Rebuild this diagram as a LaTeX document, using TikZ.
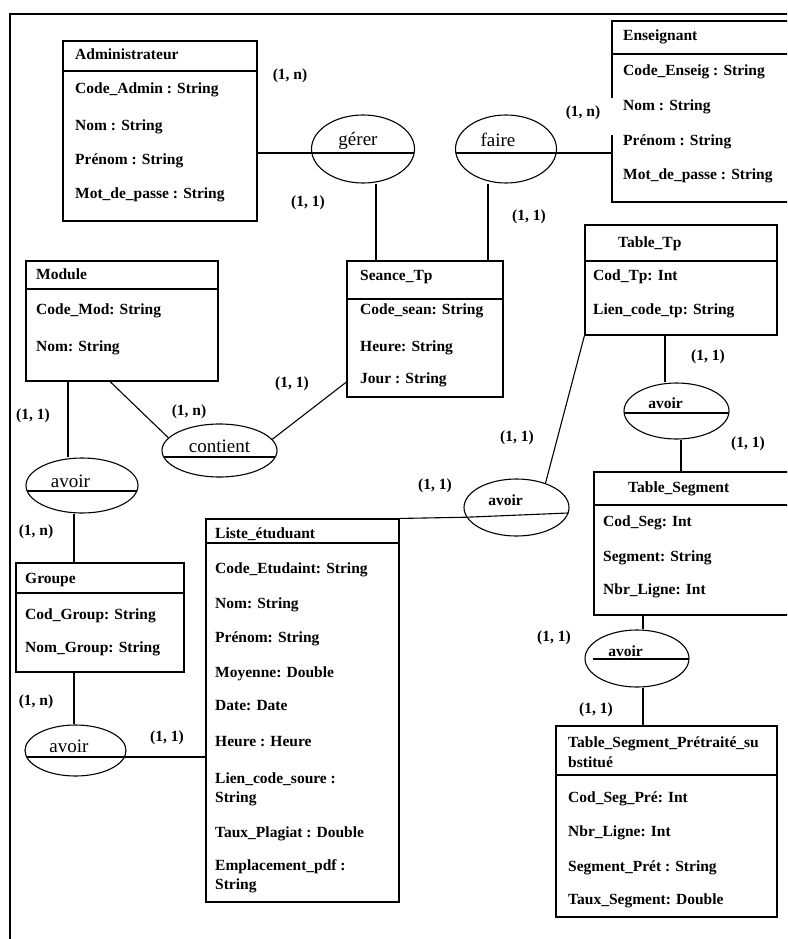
\documentclass[tikz,border=0pt]{standalone}
\usepackage{fontspec}
\setmainfont{Liberation Serif}
\usetikzlibrary{shapes.geometric,calc}
\newcommand\attrf{\fontsize{15.5}{19}\selectfont\bfseries}
\newcommand\relf{\fontsize{19}{22}\selectfont}
\newcommand\entity[6]{%
  \node[ebox, minimum width={(#4-#2)*1pt}, minimum height={(#5-#3)*1pt}] (#1) at ({(#2+#4)/2},{(#3+#5)/2}) {};
  \draw[conn] (#1.west |- 0,#6) -- (#1.east |- 0,#6);
}
\begin{document}
\begin{tikzpicture}[x=1pt,y=-1pt,
  ebox/.style={draw, line width=1.1pt, inner sep=0, rectangle},
  rel/.style={draw, ellipse, line width=1.1pt, inner sep=0},
  attr/.style={anchor=base west, font=\attrf, inner sep=0},
  card/.style={font=\attrf, inner sep=0},
  rtxt/.style={font=\relf, inner sep=0},
  stxt/.style={font=\attrf, inner sep=0},
  conn/.style={line width=1.1pt},
]
\path[use as bounding box] (0,0) rectangle (787,939);
\clip (0,0) rectangle (787,939);
\fill[white] (0,0) rectangle (787,939);
% frame
\draw[line width=1.2pt] (10,14) rectangle (830,980);

% ---------- entities ----------
\entity{admin}{63}{41}{257}{221}{71}
\node[attr] (adminT) at (75,60) {Administrateur};
\node[attr] (adminA1) at (75,94) {Code\_Admin : String};
\node[attr] (adminA2) at (75,131) {Nom : String};
\node[attr] (adminA3) at (75,164) {Prénom : String};
\node[attr] (adminA4) at (75,198) {Mot\_de\_passe : String};

\entity{ens}{612}{21}{792}{202}{54}
\draw[white, line width=3pt] (ens.west |- 0,98) -- (ens.west |- 0,135);
\node[attr] (ensT) at (623,41) {Enseignant};
\node[attr] (ensA1) at (623,76) {Code\_Enseig : String};
\node[attr] (ensA2) at (623,111) {Nom : String};
\node[attr] (ensA3) at (623,145) {Prénom : String};
\node[attr] (ensA4) at (623,179) {Mot\_de\_passe : String};

\entity{module}{26}{261}{218}{381}{289}
\node[attr] (modT) at (36,279) {Module};
\node[attr] (modA1) at (36,314) {Code\_Mod: String};
\node[attr] (modA2) at (36,351) {Nom: String};

\entity{seance}{347}{261}{503}{397}{299}
\node[attr] (seaT) at (360,280) {Seance\_Tp};
\node[attr] (seaA1) at (360,314) {Code\_sean: String};
\node[attr] (seaA2) at (360,351) {Heure: String};
\node[attr] (seaA3) at (360,383) {Jour : String};

\entity{tabletp}{585}{225}{777}{335}{261}
\node[attr] (tpT) at (618,247) {Table\_Tp};
\node[attr] (tpA1) at (593,280) {Cod\_Tp: Int};
\node[attr] (tpA2) at (593,314) {Lien\_code\_tp: String};

\entity{groupe}{16}{563}{184}{672}{593}
\node[attr] (grT) at (25,583) {Groupe};
\node[attr] (grA1) at (25,619) {Cod\_Group: String};
\node[attr] (grA2) at (25,652) {Nom\_Group: String};

\entity{liste}{206}{519}{399}{902}{543}
\node[attr] (liT) at (215,538) {Liste\_étuduant};
\node[attr] (liA1) at (215,573) {Code\_Etudaint: String};
\node[attr] (liA2) at (215,608) {Nom: String};
\node[attr] (liA3) at (215,642) {Prénom: String};
\node[attr] (liA4) at (215,677) {Moyenne: Double};
\node[attr] (liA5) at (215,710) {Date: Date};
\node[attr] (liA6) at (215,746) {Heure : Heure};
\node[attr] (liA7a) at (215,783) {Lien\_code\_soure :};
\node[attr] (liA7b) at (215,802) {String};
\node[attr] (liA8) at (215,837) {Taux\_Plagiat : Double};
\node[attr] (liA9a) at (215,870) {Emplacement\_pdf :};
\node[attr] (liA9b) at (215,889) {String};

\entity{tseg}{594}{472}{792}{615}{505}
\node[attr] (tsT) at (628,492) {Table\_Segment};
\node[attr] (tsA1) at (603,526) {Cod\_Seg: Int};
\node[attr] (tsA2) at (603,561) {Segment: String};
\node[attr] (tsA3) at (603,594) {Nbr\_Ligne: Int};

\entity{tsegp}{556}{726}{777}{917}{775}
\node[attr] (tpsTa) at (568,747) {Table\_Segment\_Prétraité\_su};
\node[attr] (tpsTb) at (568,767) {bstitué};
\node[attr] (tpsA1) at (568,802) {Cod\_Seg\_Pré: Int};
\node[attr] (tpsA2) at (568,836) {Nbr\_Ligne: Int};
\node[attr] (tpsA3) at (568,871) {Segment\_Prét : String};
\node[attr] (tpsA4) at (568,904) {Taux\_Segment: Double};

% ---------- relations ----------
\node[rel, minimum width=103pt, minimum height=68pt] (gerer) at (363,149) {};
\node[rtxt] (gererT) at (358,141) {gérer};
\draw[conn] ($(gerer.center)+(-51.1,4)$) -- ($(gerer.center)+(51.1,4)$);

\node[rel, minimum width=101pt, minimum height=68pt] (faire) at (506,149) {};
\node[rtxt] (faireT) at (498,140) {faire};
\draw[conn] ($(faire.center)+(-50.1,4)$) -- ($(faire.center)+(50.1,4)$);

\node[rel, minimum width=115pt, minimum height=53pt] (contient) at (219.5,450.5) {};
\node[rtxt] (contT) at (219.5,446) {contient};
\draw[conn] ($(contient.center)+(-55.7,6.5)$) -- ($(contient.center)+(55.7,6.5)$);

\node[rel, minimum width=112pt, minimum height=55pt] (avoirL) at (82,485.5) {};
\node[rtxt] (avLT) at (70.5,481) {avoir};
\draw[conn] ($(avoirL.center)+(-54.9,5.5)$) -- ($(avoirL.center)+(54.9,5.5)$);

\node[rel, minimum width=101pt, minimum height=51pt] (avoirBL) at (75.5,750.5) {};
\node[rtxt] (avBLT) at (69,746) {avoir};
\draw[conn] ($(avoirBL.center)+(-48.8,6.5)$) -- ($(avoirBL.center)+(48.8,6.5)$);

\node[rel, minimum width=105pt, minimum height=57pt] (avoirM) at (516.5,507.5) {};
\node[stxt] (avMT) at (505.5,500) {avoir};
\draw[conn] (avoirM.191) -- (avoirM.-6);

\node[rel, minimum width=105pt, minimum height=56pt] (avoirR) at (676.5,411) {};
\node[stxt] (avRT) at (665.5,403) {avoir};
\draw[conn] ($(avoirR.center)+(-52.4,2)$) -- ($(avoirR.center)+(52.4,2)$);

\node[rel, minimum width=104pt, minimum height=57pt] (avoirBR) at (637,658.5) {};
\node[stxt] (avBRT) at (625.5,651) {avoir};
\draw[conn] ($(avoirBR.center)+(-44,0.5)$) -- ($(avoirBR.center)+(52,0.5)$);

% ---------- connectors ----------
\draw[conn] (admin.east |- 0,153) -- ($(gerer.center)+(-51.1,4)$);
\draw[conn] (gerer.south -| 376,0) -- (seance.north -| 376,0);
\draw[conn] ($(faire.center)+(50.1,4)$) -- (ens.west |- 0,153);
\draw[conn] (faire.south -| 488,0) -- (seance.north -| 488,0);
\draw[conn] (module.south -| 68,0) -- (avoirL.north -| 68,0);
\draw[conn] (module.south -| 110,0) -- (contient.166);
\draw[conn] (contient.12) -- (seance.west |- 0,382);
\draw[conn] (avoirL.south -| 74,0) -- (groupe.north -| 74,0);
\draw[conn] (groupe.south -| 74,0) -- (avoirBL.north -| 74,0);
\draw[conn] ($(avoirBL.center)+(48.8,6.5)$) -- (liste.west |- 0,757);
\draw[conn] (liste.north east) -- (avoirM.191);
\draw[conn] (avoirM.40) -- (tabletp.south west);
\draw[conn] (tabletp.south -| 665,0) -- (avoirR.north -| 665,0);
\draw[conn] (avoirR.south -| 681,0) -- (tseg.north -| 681,0);
\draw[conn] (tseg.south -| 643,0) -- (avoirBR.north -| 643,0);
\draw[conn] (avoirBR.south -| 643,0) -- (tsegp.north -| 643,0);

% ---------- cardinalities ----------
\node[card] (c1) at (290,76) {(1, n)};
\node[card] (c2) at (308,203) {(1, 1)};
\node[card] (c3) at (583,113) {(1, n)};
\node[card] (c4) at (529,217) {(1, 1)};
\node[card] (c5) at (33,416) {(1, 1)};
\node[card] (c6) at (189,412) {(1, n)};
\node[card] (c7) at (292,384) {(1, 1)};
\node[card] (c8) at (36,532) {(1, n)};
\node[card] (c9) at (36,702) {(1, n)};
\node[card] (c10) at (167,738) {(1, 1)};
\node[card] (c11) at (708,357) {(1, 1)};
\node[card] (c12) at (748,444) {(1, 1)};
\node[card] (c13) at (517,438) {(1, 1)};
\node[card] (c14) at (435,486) {(1, 1)};
\node[card] (c15) at (554,638) {(1, 1)};
\node[card] (c16) at (596,710) {(1, 1)};
\end{tikzpicture}
\end{document}
